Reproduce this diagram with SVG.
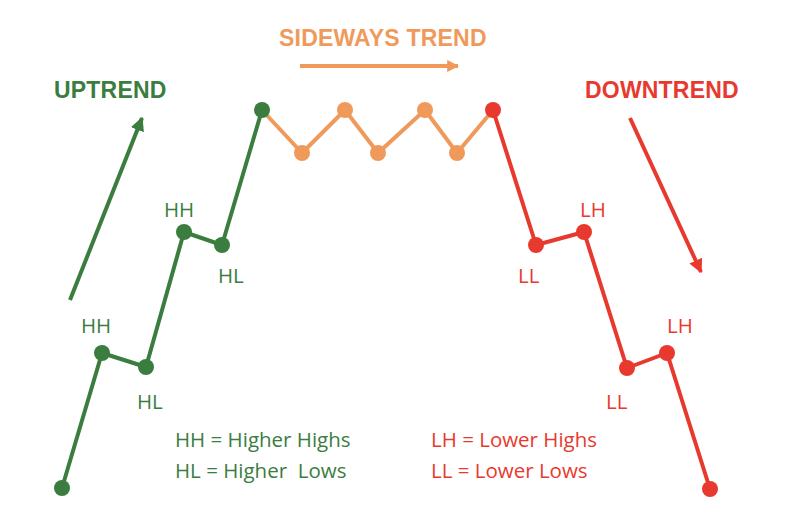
<svg xmlns="http://www.w3.org/2000/svg" width="800" height="528" viewBox="0 0 800 528">
<style>
.g{stroke:#3a7d3f;fill:none;stroke-width:4;stroke-linejoin:round}
.o{stroke:#ef9a5b;fill:none;stroke-width:4;stroke-linejoin:round}
.r{stroke:#e8392f;fill:none;stroke-width:4;stroke-linejoin:round}
.gd{fill:#3a7d3f}.od{fill:#ef9a5b}.rd{fill:#e8392f}
.title{font-family:"Liberation Sans",Arial,sans-serif;font-weight:700;font-size:23px;letter-spacing:0.2px}
.lab{font-family:"Open Sans","Noto Sans",sans-serif;font-size:20.5px}
</style>
<defs>
<marker id="ag" viewBox="0 0 10 10" refX="9" refY="5" markerWidth="3.5" markerHeight="4" orient="auto" markerUnits="strokeWidth"><path d="M0,0 L10,5 L0,10 Z" fill="#3a7d3f"/></marker>
<marker id="ao" viewBox="0 0 10 10" refX="9" refY="5" markerWidth="3" markerHeight="4" orient="auto" markerUnits="strokeWidth"><path d="M0,0 L10,5 L0,10 Z" fill="#ef9a5b"/></marker>
<marker id="ar" viewBox="0 0 10 10" refX="9" refY="5" markerWidth="3.5" markerHeight="4" orient="auto" markerUnits="strokeWidth"><path d="M0,0 L10,5 L0,10 Z" fill="#e8392f"/></marker>
</defs>
<rect width="800" height="528" fill="#fff"/>
<g id="connectors">
<polyline class="g" points="62,488 102,353 146,367 184,232 222,245 262,110"/>
<polyline class="o" points="262,110 302,153 345,110 378,153 425,110 457,153 493,110"/>
<polyline class="r" points="493,110 536,245 584,232 627,368 667,353 710,489"/>
<line class="g" x1="70" y1="300" x2="142" y2="118" marker-end="url(#ag)"/>
<line class="o" x1="300" y1="66" x2="458" y2="66" marker-end="url(#ao)"/>
<line class="r" x1="630" y1="118" x2="701" y2="272" marker-end="url(#ar)"/>
</g>
<g id="uptrend">
<circle class="gd" cx="62" cy="488" r="8"/>
<circle class="gd" cx="102" cy="353" r="8"/>
<circle class="gd" cx="146" cy="367" r="8"/>
<circle class="gd" cx="184" cy="232" r="8"/>
<circle class="gd" cx="222" cy="245" r="8"/>
<circle class="gd" cx="262" cy="110" r="8"/>
<text class="title gd" x="54" y="98">UPTREND</text>
<text class="lab gd" x="164" y="217">HH</text>
<text class="lab gd" x="218" y="283">HL</text>
<text class="lab gd" x="81" y="333">HH</text>
<text class="lab gd" x="137" y="409">HL</text>
<text class="lab gd" x="175" y="447">HH = Higher Highs</text>
<text class="lab gd" x="175" y="478" xml:space="preserve">HL = Higher  Lows</text>
</g>
<g id="sideways">
<circle class="od" cx="302" cy="153" r="8"/>
<circle class="od" cx="345" cy="110" r="8"/>
<circle class="od" cx="378" cy="153" r="8"/>
<circle class="od" cx="425" cy="110" r="8"/>
<circle class="od" cx="457" cy="153" r="8"/>
<text class="title od" x="279" y="46">SIDEWAYS TREND</text>
</g>
<g id="downtrend">
<circle class="rd" cx="493" cy="110" r="8"/>
<circle class="rd" cx="536" cy="245" r="8"/>
<circle class="rd" cx="584" cy="232" r="8"/>
<circle class="rd" cx="627" cy="368" r="8"/>
<circle class="rd" cx="667" cy="353" r="8"/>
<circle class="rd" cx="710" cy="489" r="8"/>
<text class="title rd" x="585" y="98">DOWNTREND</text>
<text class="lab rd" x="580" y="217">LH</text>
<text class="lab rd" x="518" y="283">LL</text>
<text class="lab rd" x="667" y="333">LH</text>
<text class="lab rd" x="606" y="409">LL</text>
<text class="lab rd" x="431" y="447">LH = Lower Highs</text>
<text class="lab rd" x="431" y="478">LL = Lower Lows</text>
</g>
</svg>
